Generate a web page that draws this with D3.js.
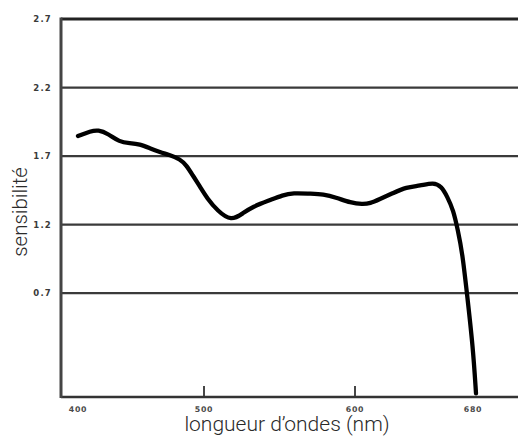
<!DOCTYPE html>
<html>
<head>
<meta charset="utf-8">
<script src="https://cdn.jsdelivr.net/npm/d3@7"></script>
<style>
  html, body { margin: 0; padding: 0; background: #fff; }
  svg { display: block; }
</style>
</head>
<body>
<svg id="chart" width="518" height="437"></svg>
<script>
// Data
const wavelengths = [400, 410, 416, 424, 433, 441, 449, 457, 465, 473, 481, 486, 491, 497, 502, 509, 518, 526, 532, 544, 552, 559, 570, 579, 588, 597, 605, 610, 616, 625, 634, 643, 652, 657, 661, 665, 668, 671, 674, 678, 680];
const sensitivity = [1.846, 1.882, 1.892, 1.863, 1.802, 1.795, 1.788, 1.758, 1.729, 1.707, 1.678, 1.634, 1.561, 1.474, 1.393, 1.3, 1.225, 1.285, 1.33, 1.38, 1.415, 1.432, 1.426, 1.423, 1.396, 1.36, 1.348, 1.355, 1.384, 1.43, 1.474, 1.484, 1.508, 1.48, 1.405, 1.306, 1.16, 0.992, 0.7, 0.306, -0.03];
const yTicks = [2.7, 2.2, 1.7, 1.2, 0.7];
const yTickLabels = ["2.7", "2.2", "1.7", "1.2", "0.7"];
const xTickValues = [400, 500, 600, 680];
const xTickLabels = ["400", "500", "600", "680"];
const xTickMarks = [500, 600];
const xTitle = "longueur d\u2019ondes (nm)";
const yTitle = "sensibilit\u00e9";

(function () {
const svg = d3.select("#chart");
const mLeft = 61, mRight = 518, mTop = 19, mBottom = 397;

// Piecewise wavelength scale (the original illustration is not linear at the start)
const x = d3.scaleLinear().domain([400, 500, 600, 680]).range([78, 204, 355, 476]);
const y = d3.scaleLinear().domain([-0.057, 2.7]).range([mBottom, mTop]);

// Gridlines
svg.append("g").selectAll("line").data(yTicks).join("line")
  .attr("x1", mLeft).attr("x2", mRight)
  .attr("y1", d => y(d)).attr("y2", d => y(d))
  .attr("stroke", (d, i) => i === 0 ? "#222" : "#3a3a3a")
  .attr("stroke-width", (d, i) => i === 0 ? 3 : 2.2);

// Y tick labels
svg.append("g").selectAll("text").data(yTicks).join("text")
  .attr("x", 52).attr("y", d => y(d))
  .attr("text-anchor", "end").attr("dominant-baseline", "central")
  .attr("font-family", "DejaVu Sans").attr("font-weight", "bold")
  .attr("font-size", 8.5).attr("letter-spacing", 1.2).attr("fill", "#3a3a3a")
  .text((d, i) => yTickLabels[i]);

// Bottom axis
svg.append("line").attr("x1", mLeft).attr("x2", mRight)
  .attr("y1", mBottom).attr("y2", mBottom)
  .attr("stroke", "#333").attr("stroke-width", 2.4);

// Left axis
svg.append("line").attr("x1", mLeft).attr("x2", mLeft)
  .attr("y1", mTop - 1.5).attr("y2", mBottom + 1)
  .attr("stroke", "#444").attr("stroke-width", 3);

// X tick marks
svg.append("g").selectAll("line").data(xTickMarks).join("line")
  .attr("x1", d => x(d)).attr("x2", d => x(d))
  .attr("y1", mBottom - 11).attr("y2", mBottom)
  .attr("stroke", "#333").attr("stroke-width", 1.8);

// X tick labels
svg.append("g").selectAll("text").data(xTickValues).join("text")
  .attr("x", (d, i) => i === 3 ? x(d) - 3 : x(d)).attr("y", 409)
  .attr("text-anchor", "middle").attr("dominant-baseline", "central")
  .attr("font-family", "DejaVu Sans").attr("font-weight", "bold")
  .attr("font-size", 7.8).attr("letter-spacing", 0.8).attr("fill", "#4a4a4a")
  .text((d, i) => xTickLabels[i]);

// Curve
const pts = wavelengths.map((w, i) => [w, sensitivity[i]]);
const line = d3.line().x(d => x(d[0])).y(d => y(d[1])).curve(d3.curveBasis);
svg.append("path").datum(pts)
  .attr("d", line)
  .attr("fill", "none").attr("stroke", "#000")
  .attr("stroke-width", 4.3).attr("stroke-linecap", "round").attr("stroke-linejoin", "round");

// Axis titles
svg.append("text")
  .attr("x", 287).attr("y", 431)
  .attr("text-anchor", "middle")
  .attr("font-family", "Roboto").attr("font-weight", 300)
  .attr("font-size", 21).attr("fill", "#2a2a2a")
  .text(xTitle);

svg.append("text")
  .attr("transform", "translate(27,212) rotate(-90)")
  .attr("text-anchor", "middle")
  .attr("font-family", "Roboto").attr("font-weight", 300)
  .attr("font-size", 20.5).attr("fill", "#2a2a2a")
  .text(yTitle);
})();
</script>
</body>
</html>
